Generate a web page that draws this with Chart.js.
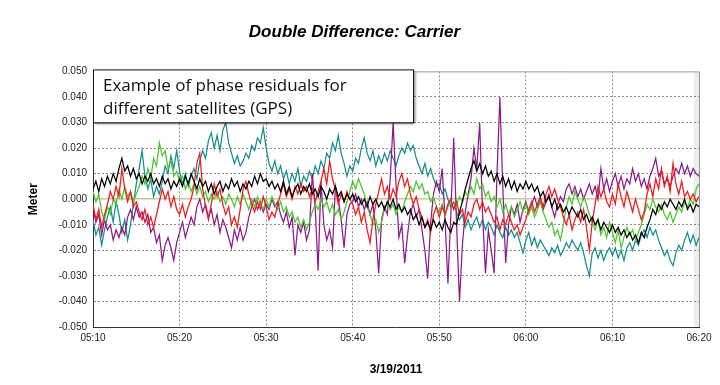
<!DOCTYPE html>
<html>
<head>
<meta charset="utf-8">
<script src="https://cdn.jsdelivr.net/npm/chart.js@4.4.1/dist/chart.umd.min.js"></script>
<style>
    html, body { margin: 0; padding: 0; background: #fff; }
    #wrap { width: 720px; height: 385px; }
</style>
</head>
<body>
<div id="wrap"><canvas id="ddChart"></canvas></div>
<script>
// Residuals in millimetres, one sample every 20 s from 05:10 to 06:20
const sampleStepMin = 20 / 60;
const xTickLabels = ['05:10', '05:20', '05:30', '05:40', '05:50', '06:00', '06:10', '06:20'];
const yTicks = [-0.05, -0.04, -0.03, -0.02, -0.01, 0, 0.01, 0.02, 0.03, 0.04, 0.05];
const shadedFromMin = 69.4;   // grey strip at the right end

const blackMm = [
    4, 7, 3, 8, 5, 9, 6, 10, 7, 12, 16, 11, 13, 9, 12, 8, 10, 6, 9, 7, 10, 6, 8, 5, 9, 6, 8, 4, 7, 5,
    8, 5, 9, 6, 10, 7, 4, 8, 5, 7, 3, 6, 2, 5, 7, 3, 6, 4, 8, 5, 7, 3, 6, 4, 7, 5, 9, 6, 10, 7,
    8, 5, 7, 4, 6, 3, 7, 2, 5, 1, 4, 6, 2, 5, 3, 6, 2, 4, 1, 5, 3, 0, 4, 2, 5, 1, 3, -1, 2, 0,
    2, -1, 1, -2, 0, -3, 1, -2, 0, -3, -1, -4, -1, -3, 0, -4, -2, -5, -3, -6, -4, -8, -6, -10, -7, -11, -9, -12, -8, -11,
    -9, -12, -8, -11, -13, -9, -10, -5, -1, 4, 8, 12, 15, 11, 14, 10, 13, 9, 11, 7, 10, 6, 9, 5, 8, 4, 7, 3, 6, 4,
    7, 4, 6, 3, 5, 1, 3, -1, 1, -3, 0, -4, -2, -5, -3, -6, -3, -5, -7, -4, -8, -6, -9, -7, -10, -8, -12, -9, -11, -13,
    -10, -13, -11, -14, -12, -15, -13, -16, -14, -17, -13, -15, -11, -8, -4, -6, -2, -4, -1, -3, 0, -2, -4, -1, -3, 0, -4, -2, -5, -2,
    -3
];
const redMm = [
    -2, -8, -4, -11, -6, -2, 3, 0, 5, 1, 12, 4, -1, 3, -3, -1, -5, -8, -4, -10, -7, -11, -6, -1, 4, 0, 3, -3, 1, -4,
    -6, -2, -7, -3, 0, 5, 14, 18, 4, -3, -8, -2, 6, 1, 4, -2, -6, -3, -10, -7, -11, -4, 4, 7, 2, -2, -5, -1, -4, 1,
    -3, -8, -5, -7, -2, 2, 6, 1, 4, 0, 5, 2, 6, 3, 5, 1, 4, -1, 3, 7, 12, 6, 15, 8, 4, -2, 2, -1, 3, 0,
    -2, -6, -3, -9, -5, -12, -17, -8, -2, 3, 8, 2, 5, 0, 4, 1, 7, 10, 5, 8, 2, -2, 1, -4, -7, -11, -8, -13, -6, -3,
    -7, -3, -6, -2, 0, -4, -1, -6, -4, -9, -5, -7, -2, 0, -4, -1, -5, -3, -6, -9, -7, -12, -8, -10, -6, -9, -12, -10, -14, -11,
    -8, -4, -1, -5, -2, 1, -3, 2, 5, 1, 4, 0, -3, -7, -10, -6, -12, -8, -5, -9, -4, -11, -20, -9, -2, 5, 1, 4, -1, -3,
    2, -2, 6, 1, -3, 3, -1, -5, 0, -4, -8, -5, 2, 6, 1, 8, 4, 12, 5, 9, 3, 14, 6, 2, 7, 1, 3, 0, 2, -1,
    1
];
const greenMm = [
    3, -1, 2, -5, -8, -3, -6, 0, -2, 4, 0, 5, 1, 3, -1, 2, 5, 9, 6, 12, 8, 16, 13, 22, 17, 19, 12, 15, 9, 11,
    7, 9, 4, 7, 3, 6, 2, 5, 1, 3, -1, 2, 0, 3, -1, 1, -2, 2, 0, -3, 1, -2, 2, -1, -4, 0, -3, 1, -2, -4,
    0, -3, 1, -2, -4, -1, -5, -3, -7, -5, -9, -7, -11, -8, -12, -9, -5, -2, -4, 0, -3, -1, -5, -2, -6, -4, -8, -5, -1, 3,
    7, 4, 8, 5, 2, -3, -6, -10, -8, -13, -9, -4, -1, -4, -2, -6, -3, -5, -1, 2, 5, 3, 7, 4, 6, 2, 3, -1, 1, -3,
    -5, -2, -6, -3, -1, -4, -2, 1, -1, 3, 1, 5, 2, 8, 4, 6, 1, 3, -1, 1, -3, 0, -5, -2, -6, -3, -7, -4, -1, -5,
    -2, -6, -3, -7, -4, -1, -5, -8, -11, -9, -14, -12, -16, -10, -3, 1, -2, 3, 0, -3, 1, -2, -6, -9, -12, -8, -14, -11, -15, -9,
    -13, -17, -12, -19, -15, -11, -14, -12, -16, -13, -10, -6, -2, -4, 0, -3, -5, -2, -6, -8, -5, -9, -6, -3, -5, -1, -3, 0, -2, 4,
    6
];
const tealMm = [
    -8, -14, -11, -18, -12, -7, -3, -9, -1, -6, -13, -8, -16, -10, -2, 6, 12, 19, 9, 4, 8, 1, 5, 2, 7, 13, 10, 17, 12, 19,
    11, 6, 10, 5, 9, 12, 8, 15, 19, 16, 23, 26, 20, 25, 19, 27, 30, 22, 18, 14, 17, 13, 15, 18, 16, 21, 19, 24, 22, 28,
    20, 14, 11, 15, 10, 13, 8, 11, 6, 10, 7, 12, 5, 9, 7, 11, 8, 13, 10, 15, 12, 18, 16, 22, 19, 25, 18, 14, 9, 13,
    11, 16, 14, 20, 24, 18, 15, 19, 13, 17, 14, 18, 15, 19, 16, 13, 17, 20, 18, 22, 19, 21, 16, 13, 10, 14, 9, 12, 8, 5,
    6, 2, 4, 0, -3, -1, -5, -8, -6, -11, -8, -12, -9, -7, -11, -8, -12, -9, -11, -14, -10, -13, -15, -11, -14, -12, -15, -13, -17, -21,
    -16, -13, -18, -15, -19, -16, -18, -20, -22, -19, -21, -18, -22, -20, -17, -19, -16, -18, -20, -17, -21, -26, -30, -21, -19, -23, -20, -24, -21, -19,
    -22, -19, -23, -20, -24, -19, -17, -20, -16, -18, -14, -12, -15, -11, -14, -12, -16, -19, -22, -20, -24, -26, -21, -18, -20, -16, -13, -17, -14, -18,
    -15
];
const purpleMm = [
    -3, -9, -6, -14, -8, -12, -10, -16, -12, -15, -11, -14, -7, -4, -8, -3, -7, -5, -9, -6, -13, -11, -17, -14, -24, -18, -15, -19, -24, -17,
    -13, -9, -15, -11, -7, -10, -3, 0, -5, -2, -7, -4, -10, -6, -13, -8, -11, -15, -19, -12, -16, -11, -16, -13, -7, -3, 0, -4, -1, -5,
    -2, -4, 0, -3, -1, -6, -9, -5, -11, -7, -22, -10, -13, -9, -16, -12, 10, -3, -28, 7, -10, -16, -12, -19, 5, 0, -8, -19, -6, -2,
    -1, 2, -3, 0, -4, -1, -6, -2, -12, -29, -8, -3, -6, 8, 30, 6, -15, -10, -25, -14, -5, -2, -7, -4, -12, -20, -31, -9, 2, 7,
    3, 12, -8, -33, -6, 24, -10, -40, -18, -5, 2, 8, 20, 12, 30, -6, -29, -12, -20, -29, 10, 40, 5, -25, -10, -3, -6, -2, -9, -4,
    -1, -5, -2, 1, -3, 0, -4, -1, 2, -3, -7, -2, 1, -1, 4, 6, 2, 5, 1, 4, 0, 3, 6, 2, 5, 0, 12, 4, 8, 3,
    7, 10, 5, 9, 4, 8, 6, 12, 7, 10, 5, 8, 4, 9, 12, 16, 9, 11, 6, 8, 5, 9, 12, 10, 14, 10, 13, 9, 12, 10,
    9
];

function toPoints(mm) {
    return mm.map((v, i) => ({ x: i * sampleStepMin, y: v / 1000 }));
}

function makeSeries(label, mm, color) {
    return {
        label: label,
        data: toPoints(mm),
        borderColor: color,
        borderWidth: 1.25,
        pointRadius: 0,
        tension: 0,
        fill: false
    };
}

// grey strip, top/right frame and the note box
const plotExtras = {
    id: 'plotExtras',
    beforeDraw(chart) {
        const { ctx, chartArea: a, scales: { x } } = chart;
        const bx = x.getPixelForValue(shadedFromMin);
        ctx.save();
        ctx.fillStyle = '#ececec';
        ctx.fillRect(bx, a.top, a.right - bx, a.bottom - a.top);
        ctx.restore();
    },
    afterDatasetsDraw(chart) {
        const { ctx, chartArea: a } = chart;
        ctx.save();
        ctx.strokeStyle = '#9a9a9a';
        ctx.lineWidth = 1;
        ctx.beginPath();
        ctx.moveTo(a.left, a.top + 0.5);
        ctx.lineTo(a.right + 0.5, a.top + 0.5);
        ctx.lineTo(a.right + 0.5, a.bottom);
        ctx.stroke();
        ctx.restore();
    },
    afterDraw(chart) {
        const { ctx, chartArea: a } = chart;
        const bx = a.left, by = a.top - 2, bw = 320, bh = 53;
        ctx.save();
        ctx.shadowColor = 'rgba(0, 0, 0, 0.55)';
        ctx.shadowOffsetX = 2;
        ctx.shadowOffsetY = 2;
        ctx.shadowBlur = 3;
        ctx.fillStyle = '#fff';
        ctx.fillRect(bx, by, bw, bh);
        ctx.shadowColor = 'transparent';
        ctx.strokeStyle = '#111';
        ctx.lineWidth = 1;
        ctx.strokeRect(bx + 0.5, by + 0.5, bw, bh);
        ctx.fillStyle = '#111';
        ctx.font = "17px 'Open Sans', 'Noto Sans', sans-serif";
        ctx.textBaseline = 'alphabetic';
        ctx.fillText('Example of phase residuals for', bx + 10, by + 22);
        ctx.fillText('different satellites (GPS)', bx + 10, by + 45);
        ctx.restore();
    }
};

Chart.defaults.font.family = "'Liberation Sans', Arial, sans-serif";
Chart.defaults.color = '#222';

new Chart(document.getElementById('ddChart'), {
    type: 'line',
    data: {
        datasets: [
            makeSeries('Black', blackMm, '#000000'),
            makeSeries('Red', redMm, '#f21a1a'),
            makeSeries('Green', greenMm, '#4ec332'),
            makeSeries('Purple', purpleMm, '#8c1c8c'),
            makeSeries('Teal', tealMm, '#188d8d')
        ]
    },
    options: {
        responsive: true,
        maintainAspectRatio: false,
        animation: false,
        layout: { padding: { left: 10, right: 21, top: 8, bottom: 6 } },
        plugins: {
            legend: { display: false },
            tooltip: { enabled: false },
            title: {
                display: true,
                text: 'Double Difference: Carrier',
                color: '#000',
                font: { size: 17, weight: 'bold', style: 'italic' },
                padding: { top: 14, bottom: 29 }
            }
        },
        scales: {
            x: {
                type: 'linear',
                min: 0,
                max: 70,
                afterFit: function (scale) { scale.height = 52; },
                afterBuildTicks: function (scale) {
                    scale.ticks = xTickLabels.map((t, i) => ({ value: i * 10 }));
                },
                ticks: {
                    maxRotation: 0,
                    padding: 5,
                    font: { size: 10 },
                    callback: function (value) { return xTickLabels[Math.round(value / 10)]; }
                },
                grid: {
                    drawTicks: false,
                    color: function (c) { return c.tick && c.tick.value === 70 ? 'rgba(0,0,0,0)' : '#8a8a8a'; }
                },
                border: { display: true, color: '#333', width: 1, dash: [2, 2] },
                title: {
                    display: true,
                    text: '3/19/2011',
                    color: '#000',
                    font: { size: 12, weight: 'bold' },
                    padding: { top: 0, bottom: 2 }
                }
            },
            y: {
                min: -0.05,
                max: 0.05,
                afterFit: function (scale) { scale.width = 83; },
                afterBuildTicks: function (scale) {
                    scale.ticks = yTicks.map(v => ({ value: v }));
                },
                ticks: {
                    padding: 6,
                    font: { size: 10 },
                    callback: function (value) { return value.toFixed(3); }
                },
                grid: {
                    drawTicks: false,
                    lineWidth: function (c) { return c.tick && Math.abs(c.tick.value) < 1e-9 ? 1.5 : 1; },
                    color: function (c) {
                        if (!c.tick) return '#8a8a8a';
                        if (Math.abs(c.tick.value) < 1e-9) return '#cbc49a';
                        if (c.tick.value > 0.0499) return 'rgba(0,0,0,0)';
                        return '#8a8a8a';
                    }
                },
                border: {
                    display: true,
                    color: '#333',
                    width: 1,
                    dash: function (c) { return c.tick && Math.abs(c.tick.value) < 1e-9 ? [] : [2, 2]; }
                },
                title: {
                    display: true,
                    text: 'Meter',
                    color: '#000',
                    font: { size: 12, weight: 'bold' },
                    padding: { top: 16 }
                }
            }
        }
    },
    plugins: [plotExtras]
});
</script>
</body>
</html>
